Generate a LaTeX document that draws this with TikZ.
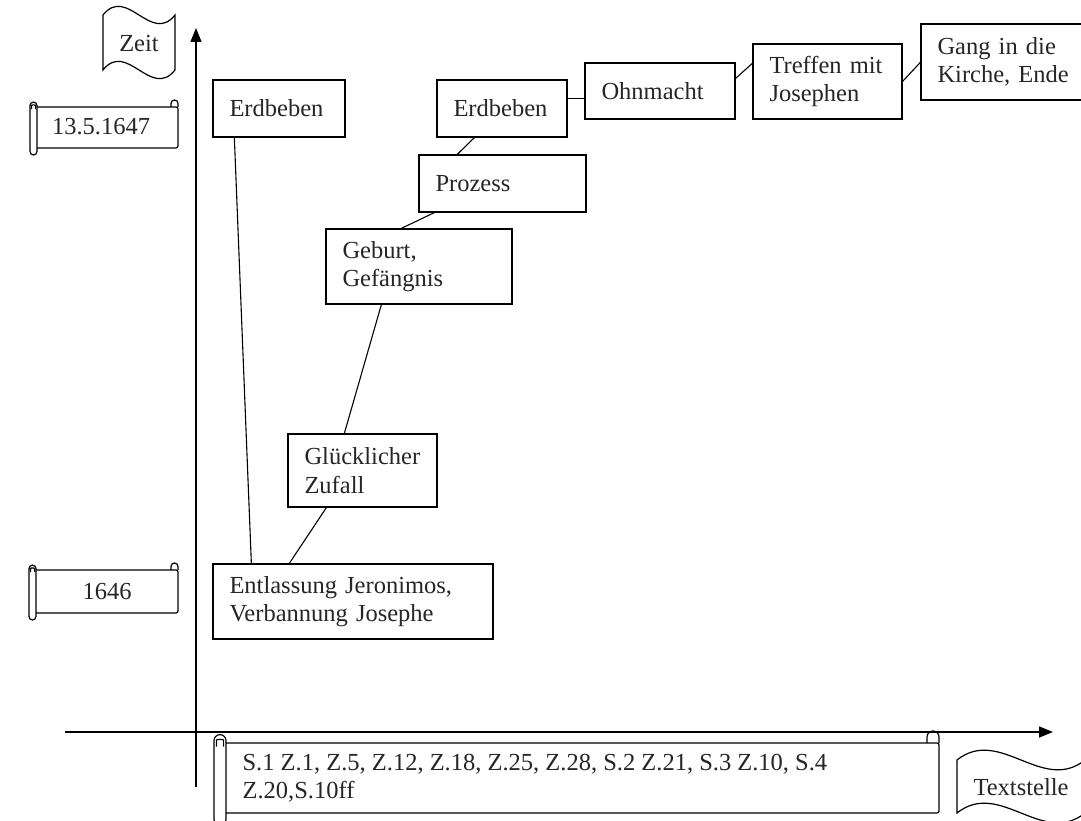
\documentclass[tikz,border=0pt]{standalone}
\usepackage{fontspec}
\setmainfont{Liberation Serif}
\usetikzlibrary{arrows.meta,calc}
\newcommand\ScrollShp[5]{%
  \draw[rounded corners=2] ({#1+#5},#2) -- (#3,#2) -- (#3,#4) -- ({#1+#5},#4);
  \draw[rounded corners={#5/2}] (#1,{#2-#5*0.7}) rectangle ({#1+#5},{#4+#5});
  \draw[rounded corners={#5/2}] ({#3-#5},#2) -- ({#3-#5},{#2-#5}) -- (#3,{#2-#5}) -- (#3,#2);
  \draw[rounded corners=1] ({#1+#5*0.2},{#2+#5*0.3}) -- ({#1+#5*0.2},{#2-#5*0.3}) -- ({#1+#5*0.8},{#2-#5*0.3}) -- ({#1+#5*0.8},{#2+#5*0.3});
}
\newcommand\FlagShp[5]{%
  \draw (#1,#2) .. controls ({#1+(#3-#1)/3},{#2-#5}) and ({#1+2*(#3-#1)/3},{#2+#5}) .. (#3,#2)
    -- (#3,#4) .. controls ({#1+2*(#3-#1)/3},{#4+#5}) and ({#1+(#3-#1)/3},{#4-#5}) .. (#1,#4) -- cycle;
}
\tikzset{
  txt/.style={font=\fontsize{24.5}{28.5}\selectfont, text=black!85},
  evbox/.style={txt, draw, line width=1.3pt, align=left, inner xsep=16.5pt, inner ysep=0pt},
  conn/.style={line width=1.1pt},
  axis/.style={line width=1.4pt, -{Triangle[length=14pt,width=11pt]}},
}
\begin{document}
\begin{tikzpicture}[x=1pt,y=-1pt, line width=1.2pt]
\clip (0,0) rectangle (1081,821);
\fill[white] (0,0) rectangle (1081,821);

% axes
\coordinate (yb) at (196,787);
\coordinate (yt) at (196,28);
\coordinate (xl) at (65,732);
\coordinate (xr) at (1053,732);
\draw[axis] (yb) -- (yt);
\draw[axis] (xl) -- (xr);

% flags
\FlagShp{103}{15}{175}{70}{30}
\node[txt] (zeit) at (139,44) {Zeit};
\FlagShp{957}{760}{1085}{813}{34}
\node[txt] (textstelle) at (1021,787) {Textstelle};

% scrolls
\ScrollShp{30}{107}{178}{148}{7}
\node[txt] (d1647) at (101,127) {13.5.1647};
\ScrollShp{29}{570}{178}{613}{7}
\node[txt] (d1646) at (107,592) {1646};
\ScrollShp{214}{743}{939}{813}{12}
\node[txt, align=left, anchor=west, inner sep=0pt] (stellen) at (242,778)
  {S.1 Z.1, Z.5, Z.12, Z.18, Z.25, Z.28, S.2 Z.21, S.3 Z.10, S.4\\Z.20,S.10ff};

% event boxes
\node[evbox, minimum width=132pt, minimum height=57pt, text width=99pt] (e1) at (279,108.5) {Erdbeben};
\node[evbox, minimum width=280pt, minimum height=75pt, text width=247pt] (ent) at (353,601.5) {Entlassung Jeronimos,\\Verbannung Josephe};
\node[evbox, minimum width=149pt, minimum height=73pt, text width=116pt] (gl) at (362.5,470.5) {Glücklicher\\Zufall};
\node[evbox, minimum width=186pt, minimum height=75pt, text width=153pt] (geb) at (419,266.5) {Geburt,\\Gefängnis};
\node[evbox, minimum width=167pt, minimum height=57pt, text width=134pt] (proz) at (502.5,183.5) {Prozess};
\node[evbox, minimum width=130pt, minimum height=57pt, text width=97pt] (e2) at (502,108.5) {Erdbeben};
\node[evbox, minimum width=150pt, minimum height=56pt, text width=117pt] (ohn) at (660,91) {Ohnmacht};
\node[evbox, minimum width=149pt, minimum height=75pt, text width=116pt] (tref) at (827.5,81.5) {Treffen mit\\Josephen};
\node[evbox, minimum width=183pt, minimum height=76pt, text width=150pt] (gang) at (1012.5,62) {Gang in die\\Kirche, Ende};

% connectors
\draw[conn] ($(e1.south west)+(22,0)$) -- ($(ent.north west)+(39,0)$);
\draw[conn] ($(gl.south west)+(39,0)$) -- ($(ent.north west)+(77,0)$);
\draw[conn] ($(geb.south west)+(56,0)$) -- ($(gl.north west)+(57,0)$);
\draw[conn] ($(proz.south west)+(16,0)$) -- ($(geb.north west)+(76,0)$);
\draw[conn] ($(e2.south west)+(38,0)$) -- ($(proz.north west)+(39,0)$);
\draw[conn] ($(e2.north east)+(0,19)$) -- ($(ohn.north west)+(0,36)$);
\draw[conn] ($(ohn.north east)+(0,16)$) -- ($(tref.north west)+(0,20)$);
\draw[conn] ($(tref.north east)+(0,38)$) -- ($(gang.north west)+(0,39)$);
\end{tikzpicture}
\end{document}
